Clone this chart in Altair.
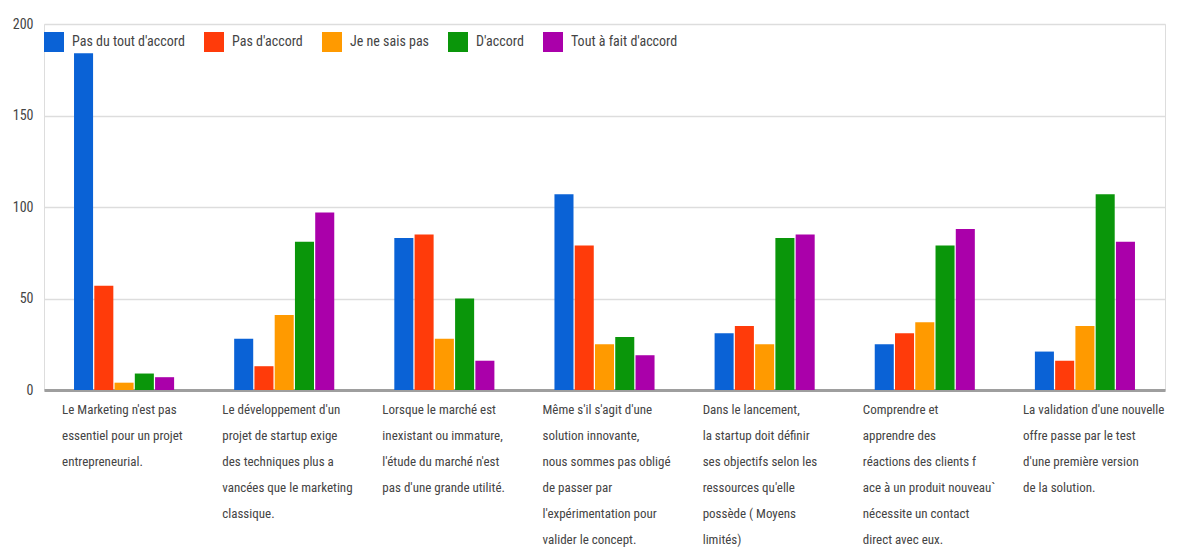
import altair as alt
import pandas as pd

categories = [
    "Le Marketing n'est pas\nessentiel pour un projet\nentrepreneurial.",
    "Le développement d'un\nprojet de startup exige\ndes techniques plus a\nvancées que le marketing\nclassique.",
    "Lorsque le marché est\ninexistant ou immature,\nl'étude du marché n'est\npas d'une grande utilité.",
    "Même s'il s'agit d'une\nsolution innovante,\nnous sommes pas obligé\nde passer par\nl'expérimentation pour\nvalider le concept.",
    "Dans le lancement,\nla startup doit définir\nses objectifs selon les\nressources qu'elle\npossède ( Moyens\nlimités)",
    "Comprendre et\napprendre des\nréactions des clients f\nace à un produit nouveau`\n nécessite un contact\ndirect avec eux.",
    "La validation d'une nouvelle\noffre passe par le test\nd'une première version\nde la solution.",
]

series = ["Pas du tout d'accord", "Pas d'accord", "Je ne sais pas", "D'accord", "Tout à fait d'accord"]
colors = ["#0a62d6", "#ff3b0a", "#ff9a00", "#0a960a", "#aa00aa"]

pas_du_tout = [184, 28, 83, 107, 31, 25, 21]
pas_accord = [57, 13, 85, 79, 35, 31, 16]
ne_sais_pas = [4, 41, 28, 25, 25, 37, 35]
accord = [9, 81, 50, 29, 83, 79, 107]
tout_a_fait = [7, 97, 16, 19, 85, 88, 81]

y_ticks = [0, 50, 100, 150, 200]

values = [pas_du_tout, pas_accord, ne_sais_pas, accord, tout_a_fait]
rows = []
for s, vals in zip(series, values):
    for c, v in zip(categories, vals):
        rows.append({"categorie": c, "reponse": s, "valeur": v})
df = pd.DataFrame(rows)

FONT = "Liberation Sans Narrow, Roboto Condensed, Roboto, sans-serif"

chart = alt.Chart(df).mark_bar().encode(
    x=alt.X(
        "categorie:N",
        sort=categories,
        title=None,
        scale=alt.Scale(paddingInner=0.375, paddingOuter=0.1875),
        axis=alt.Axis(
            labelAngle=0,
            labelAlign="left",
            labelBaseline="top",
            labelOffset=-62,
            labelPadding=13,
            labelFontSize=13,
            labelFont=FONT,
            labelColor="#444444",
            labelLimit=0,
            labelLineHeight=26,
            labelExpr="split(datum.label, '\\n')",
            ticks=False,
            domain=True,
            domainColor="#9e9e9e",
            domainWidth=3,
            grid=False,
        ),
    ),
    xOffset=alt.XOffset("reponse:N", sort=series, scale=alt.Scale(paddingInner=0.06)),
    y=alt.Y(
        "valeur:Q",
        title=None,
        scale=alt.Scale(domain=[0, 200], nice=False),
        axis=alt.Axis(
            values=y_ticks,
            labelFontSize=14,
            labelFont=FONT,
            labelColor="#444444",
            labelPadding=11,
            ticks=False,
            domain=False,
            gridColor="#dddddd",
            gridWidth=1.5,
        ),
    ),
    color=alt.Color(
        "reponse:N",
        sort=series,
        scale=alt.Scale(domain=series, range=colors),
        legend=alt.Legend(
            title=None,
            orient="none",
            legendX=0,
            legendY=8,
            direction="horizontal",
            columns=5,
            symbolType="square",
            symbolSize=400,
            symbolStrokeWidth=0,
            symbolOpacity=1,
            labelFontSize=14,
            labelFont=FONT,
            labelColor="#444444",
            labelOffset=8,
            columnPadding=19,
        ),
    ),
).properties(
    width=1121,
    height=366,
    autosize=alt.AutoSizeParams(type="none"),
    padding={"left": 44, "top": 24, "right": 27, "bottom": 160},
).configure_view(stroke=None).configure(background="white")

chart.save("out.html", embed_options={"renderer": "svg", "actions": False})
